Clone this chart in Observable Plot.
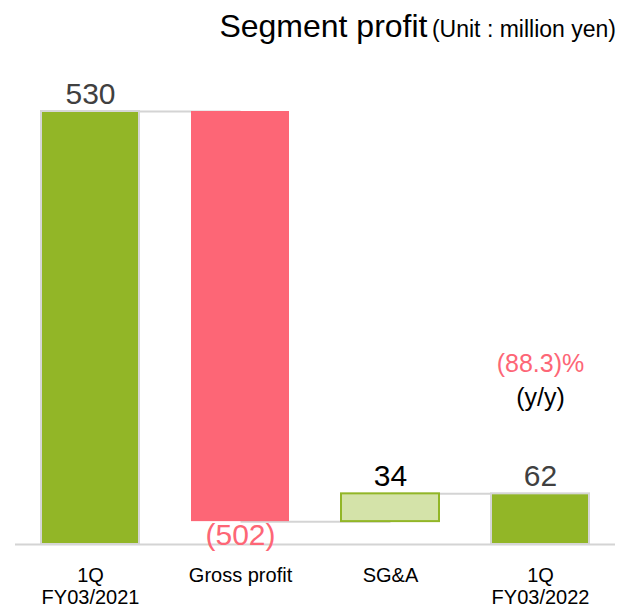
<!DOCTYPE html>
<html><head><meta charset="utf-8">
<script src="https://cdn.jsdelivr.net/npm/d3@7"></script>
<script src="https://cdn.jsdelivr.net/npm/@observablehq/plot@0.6"></script>
<style>
body{margin:0;background:#fff;font-family:"Liberation Sans",Arial,sans-serif;}
#wrap{width:623px;height:609px;position:relative;}
#title{height:60px;position:relative;}
#title .t{position:absolute;right:7px;top:7px;white-space:nowrap;color:#000;line-height:1.2;}
#title .big{font-size:32px;}
#title .small{font-size:23px;}
</style></head>
<body>
<div id="wrap">
<div id="title"><div class="t"><span class="big">Segment profit</span> <span class="small">(Unit : million yen)</span></div></div>
<div id="chart"></div>
</div>
<script>
const categories = ["1Q\nFY03/2021", "Gross profit", "SG&A", "1Q\nFY03/2022"];
const starts = [0, 530, 28, 0];
const ends = [530, 28, 62, 62];
const labels = ["530", "(502)", "34", "62"];
const kinds = ["total", "down", "up", "total"];
const yoyText = "(88.3)%";
const yoyLabel = "(y/y)";

const rows = categories.map((c, i) => ({
  cat: c, y1: starts[i], y2: ends[i], label: labels[i], kind: kinds[i],
  top: Math.max(starts[i], ends[i]), bottom: Math.min(starts[i], ends[i])
}));
const links = rows.slice(0, -1).map((r, i) => ({a: r.cat, b: rows[i + 1].cat, y: r.y2}));

const fillOf = {total: "#92b627", down: "#fd6676", up: "#d4e3a9"};
const strokeOf = {total: "#d6d6d6", down: "none", up: "#92b627"};
const labelColor = {total: "#404040", down: "#fd6676", up: "#000"};

const chart = Plot.plot({
  width: 623, height: 549,
  marginLeft: 15, marginRight: 8, marginTop: 51, marginBottom: 65,
  style: {fontFamily: "'Liberation Sans', Arial, sans-serif", background: "#fff"},
  x: {domain: categories, paddingInner: 1/3, paddingOuter: 1/6, axis: null},
  y: {domain: [0, 530], axis: null},
  marks: [
    Plot.link(links, {x1: "a", x2: "b", y1: "y", y2: "y", stroke: "#d4d4d4", strokeWidth: 2}),
    Plot.ruleY([0], {stroke: "#d4d4d4", strokeWidth: 2}),
    Plot.barY(rows, {x: "cat", y1: "y1", y2: "y2", fill: d => fillOf[d.kind], stroke: d => strokeOf[d.kind], strokeWidth: 2, insetLeft: 1, insetRight: 1}),
    Plot.text(rows.filter(d => d.kind !== "down"), {x: "cat", y: "top", text: "label", dy: -17, fontSize: 30, fill: d => labelColor[d.kind]}),
    Plot.text(rows.filter(d => d.kind === "down"), {x: "cat", y: "bottom", text: "label", dy: 14, fontSize: 30, fill: d => labelColor[d.kind]}),
    Plot.text([rows[3]], {x: "cat", y: "top", text: () => yoyText, dy: -130, fontSize: 25, fill: "#fd6676"}),
    Plot.text([rows[3]], {x: "cat", y: "top", text: () => yoyLabel, dy: -96, fontSize: 25, fill: "#000"}),
    Plot.text(rows, {x: "cat", y: () => 0, text: "cat", dy: 22, lineAnchor: "top", fontSize: 20, lineHeight: 1.1, fill: "#000"})
  ]
});
document.getElementById("chart").appendChild(chart);
</script>
</body></html>
